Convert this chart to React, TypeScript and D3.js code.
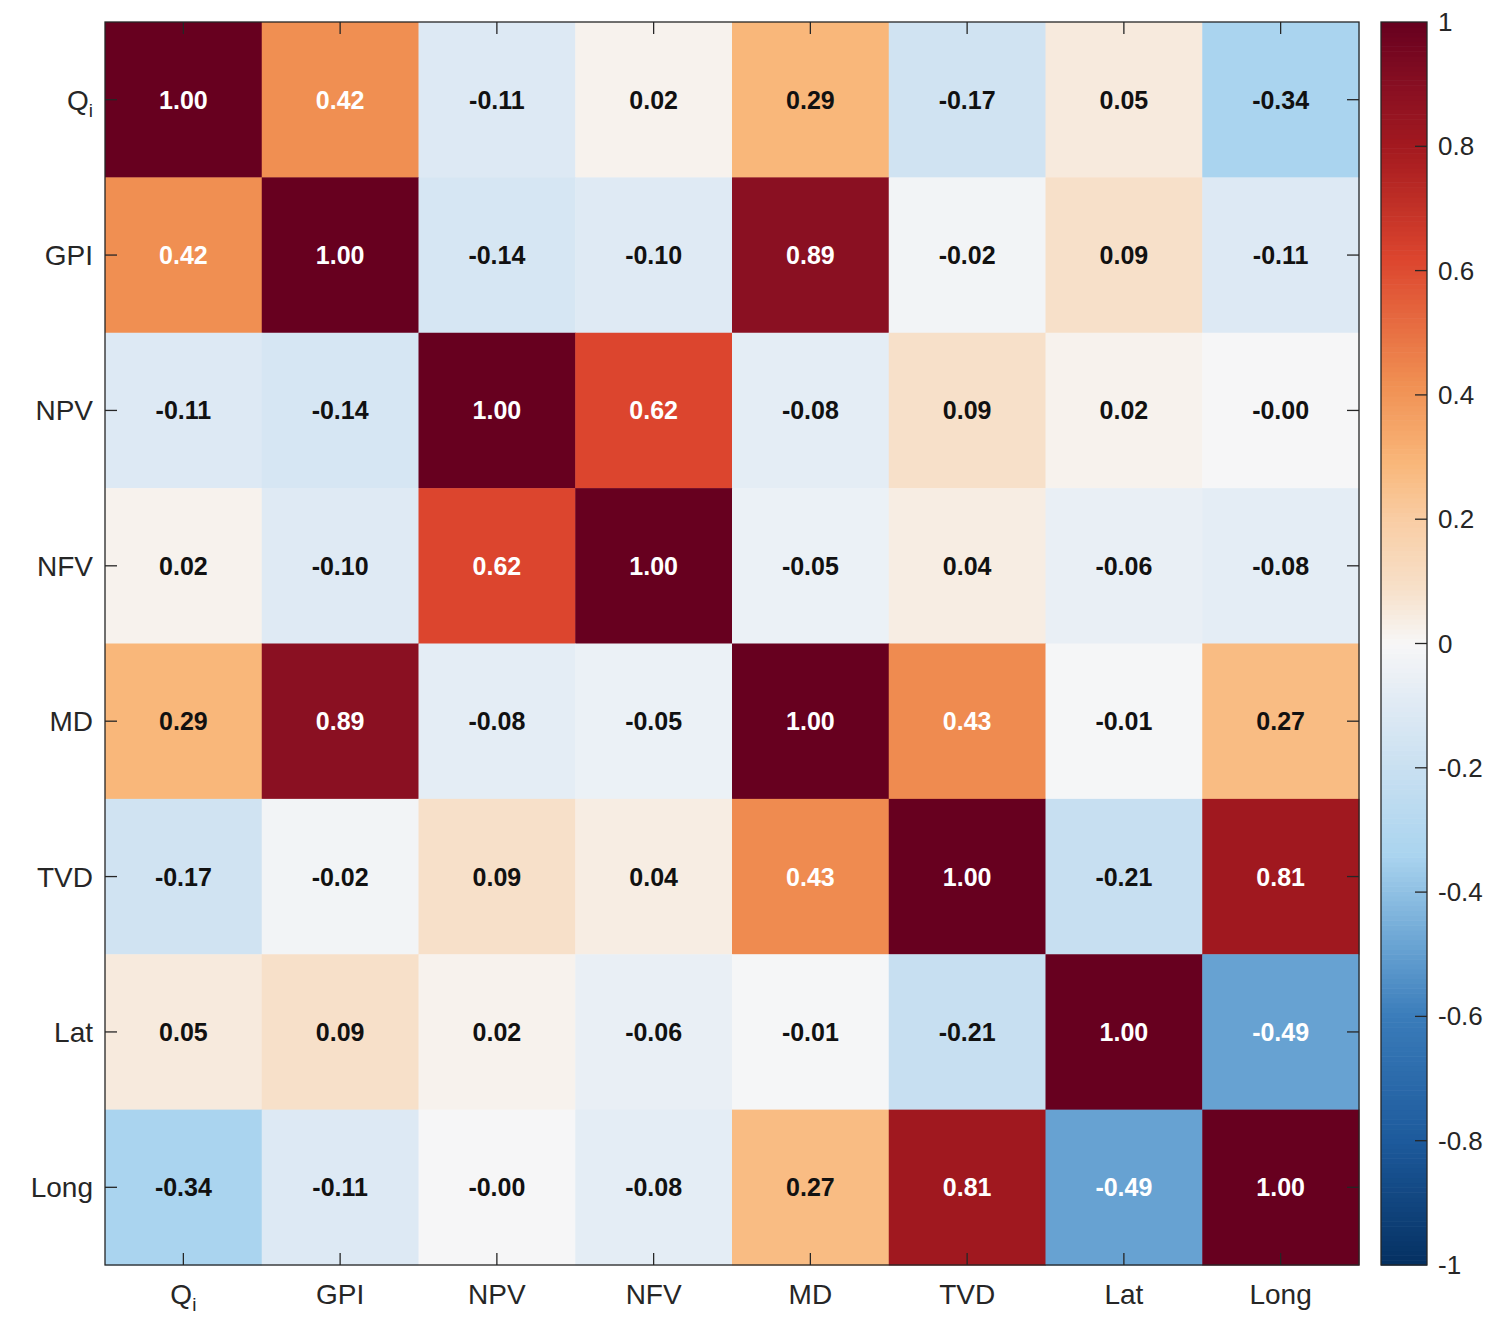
import { useEffect, useRef } from "react";
import * as d3 from "d3";

const W = 1507;
const H = 1318;
const PLOT = { left: 105, right: 1359, top: 22, bottom: 1265 };
const CBAR = { left: 1381, right: 1427 };

const vars = ["Qi", "GPI", "NPV", "NFV", "MD", "TVD", "Lat", "Long"];

// correlation rows, in the same order as vars
const rowQi = [1.0, 0.42, -0.11, 0.02, 0.29, -0.17, 0.05, -0.34];
const rowGPI = [0.42, 1.0, -0.14, -0.1, 0.89, -0.02, 0.09, -0.11];
const rowNPV = [-0.11, -0.14, 1.0, 0.62, -0.08, 0.09, 0.02, -0.004];
const rowNFV = [0.02, -0.1, 0.62, 1.0, -0.05, 0.04, -0.06, -0.08];
const rowMD = [0.29, 0.89, -0.08, -0.05, 1.0, 0.43, -0.01, 0.27];
const rowTVD = [-0.17, -0.02, 0.09, 0.04, 0.43, 1.0, -0.21, 0.81];
const rowLat = [0.05, 0.09, 0.02, -0.06, -0.01, -0.21, 1.0, -0.49];
const rowLong = [-0.34, -0.11, -0.004, -0.08, 0.27, 0.81, -0.49, 1.0];
const matrix = [rowQi, rowGPI, rowNPV, rowNFV, rowMD, rowTVD, rowLat, rowLong];

const cbarTicks = [1, 0.8, 0.6, 0.4, 0.2, 0, -0.2, -0.4, -0.6, -0.8, -1];

// diverging colormap stops, picked off the colour bar
const cmapVals = [-1, -0.8, -0.6, -0.49, -0.34, -0.2, -0.1, 0, 0.09, 0.2, 0.29, 0.42, 0.62, 0.8, 0.89, 1];
const cmapCols = [
  "#053061", "#1d5a9c", "#3a7cba", "#67a2d2", "#aad4ef", "#c9e0f1", "#dfeaf4", "#f7f7f7",
  "#f7e0c9", "#f9cda4", "#f9b77a", "#f08f52", "#dc452e", "#a3191f", "#8a1022", "#67001f",
];

const FONT = "Arial, 'Liberation Sans', Helvetica, sans-serif";
const INK = "#262626";

const color = d3.scaleLinear<string>().domain(cmapVals).range(cmapCols).interpolate(d3.interpolateRgb).clamp(true);

export default function App() {
  const svgRef = useRef<SVGSVGElement>(null);

  useEffect(() => {
    if (!svgRef.current) return;
    const svg = d3.select(svgRef.current);
    svg.selectAll("*").remove();

    const x = d3.scaleBand().domain(vars).range([PLOT.left, PLOT.right]).padding(0);
    const y = d3.scaleBand().domain(vars).range([PLOT.top, PLOT.bottom]).padding(0);

    const cells = matrix.flatMap((row, i) =>
      row.map((v, j) => ({ r: vars[i], c: vars[j], v })),
    );

    const g = svg.append("g");
    g.selectAll("rect.cell")
      .data(cells)
      .join("rect")
      .attr("class", "cell")
      .attr("x", (d) => x(d.c)!)
      .attr("y", (d) => y(d.r)!)
      .attr("width", x.bandwidth() + 0.5)
      .attr("height", y.bandwidth() + 0.5)
      .attr("fill", (d) => color(d.v));

    g.selectAll("text.val")
      .data(cells)
      .join("text")
      .attr("class", "val")
      .attr("x", (d) => x(d.c)! + x.bandwidth() / 2)
      .attr("y", (d) => y(d.r)! + y.bandwidth() / 2)
      .attr("dy", "0.36em")
      .attr("text-anchor", "middle")
      .attr("font-family", FONT)
      .attr("font-weight", "bold")
      .attr("font-size", 25)
      .attr("fill", (d) => (Math.abs(d.v) > 0.4 ? "#ffffff" : "#111111"))
      .text((d) => d.v.toFixed(2));

    // frame
    svg.append("rect")
      .attr("x", PLOT.left)
      .attr("y", PLOT.top)
      .attr("width", PLOT.right - PLOT.left)
      .attr("height", PLOT.bottom - PLOT.top)
      .attr("fill", "none")
      .attr("stroke", INK)
      .attr("stroke-width", 1.3);

    const TL = 12;
    const ticks = svg.append("g").attr("stroke", INK).attr("stroke-width", 1.3);
    vars.forEach((v) => {
      const cx = x(v)! + x.bandwidth() / 2;
      const cy = y(v)! + y.bandwidth() / 2;
      ticks.append("line").attr("x1", cx).attr("x2", cx).attr("y1", PLOT.bottom).attr("y2", PLOT.bottom - TL);
      ticks.append("line").attr("x1", cx).attr("x2", cx).attr("y1", PLOT.top).attr("y2", PLOT.top + TL);
      ticks.append("line").attr("x1", PLOT.left).attr("x2", PLOT.left + TL).attr("y1", cy).attr("y2", cy);
      ticks.append("line").attr("x1", PLOT.right).attr("x2", PLOT.right - TL).attr("y1", cy).attr("y2", cy);
    });

    const addLabel = (sel: d3.Selection<SVGTextElement, unknown, null, undefined>, v: string) => {
      if (v === "Qi") {
        sel.append("tspan").text("Q");
        sel.append("tspan").attr("font-size", 19).attr("dy", 7).text("i");
      } else {
        sel.text(v);
      }
    };

    vars.forEach((v) => {
      const cx = x(v)! + x.bandwidth() / 2;
      const cy = y(v)! + y.bandwidth() / 2;
      const tx = svg.append("text")
        .attr("x", cx)
        .attr("y", PLOT.bottom + 39)
        .attr("text-anchor", "middle")
        .attr("font-family", FONT)
        .attr("font-size", 28)
        .attr("fill", INK);
      addLabel(tx, v);
      const ty = svg.append("text")
        .attr("x", PLOT.left - 12)
        .attr("y", cy + 10)
        .attr("text-anchor", "end")
        .attr("font-family", FONT)
        .attr("font-size", 28)
        .attr("fill", INK);
      addLabel(ty, v);
    });

    // colour bar
    const cy = d3.scaleLinear().domain([-1, 1]).range([PLOT.bottom, PLOT.top]);
    const N = 256;
    const step = 2 / N;
    const steps = d3.range(N).map((i) => -1 + i * step);
    svg.append("g")
      .selectAll("rect")
      .data(steps)
      .join("rect")
      .attr("x", CBAR.left)
      .attr("width", CBAR.right - CBAR.left)
      .attr("y", (d) => cy(d + step))
      .attr("height", (d) => cy(d) - cy(d + step) + 0.6)
      .attr("fill", (d) => color(d + step / 2));
    svg.append("rect")
      .attr("x", CBAR.left)
      .attr("y", PLOT.top)
      .attr("width", CBAR.right - CBAR.left)
      .attr("height", PLOT.bottom - PLOT.top)
      .attr("fill", "none")
      .attr("stroke", INK)
      .attr("stroke-width", 1.3);

    const cb = svg.append("g");
    cbarTicks.forEach((t) => {
      if (t !== 1 && t !== -1) {
        cb.append("line")
          .attr("x1", CBAR.right - 12)
          .attr("x2", CBAR.right)
          .attr("y1", cy(t))
          .attr("y2", cy(t))
          .attr("stroke", INK)
          .attr("stroke-width", 1.3);
      }
      cb.append("text")
        .attr("x", CBAR.right + 11)
        .attr("y", cy(t) + 9)
        .attr("font-family", FONT)
        .attr("font-size", 26)
        .attr("fill", INK)
        .text(String(t));
    });
  }, []);

  return (
    <svg
      ref={svgRef}
      width={W}
      height={H}
      style={{ position: "absolute", left: 0, top: 0, background: "#fff" }}
    />
  );
}
